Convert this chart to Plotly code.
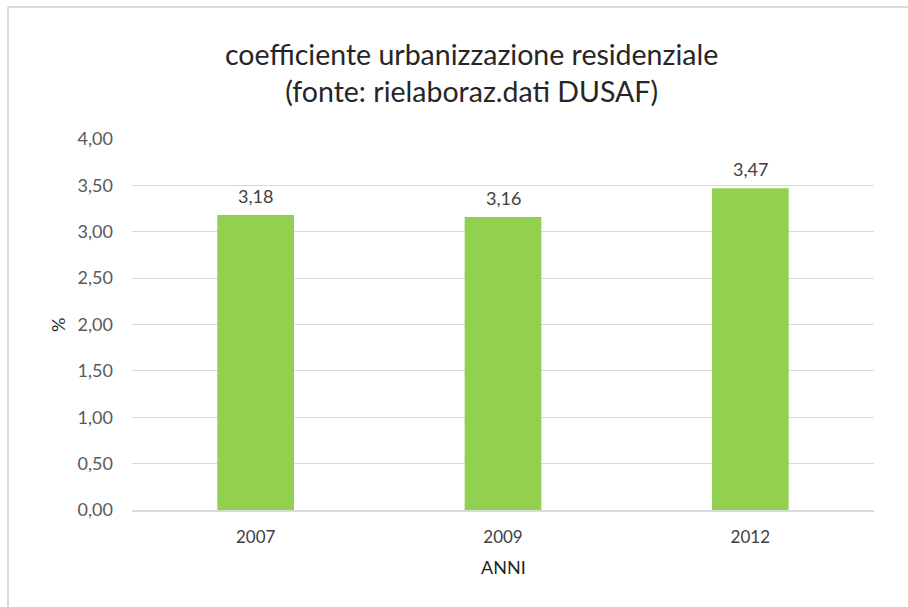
import plotly.graph_objects as go

# Data
anni = ["2007", "2009", "2012"]
valori = [3.18, 3.16, 3.47]
titolo = "coefficiente urbanizzazione residenziale<br>(fonte: rielaboraz.dati DUSAF)"
titolo_x = "ANNI"
titolo_y = "%"

W, H = 908, 607
L, R, T, B = 132, 34, 139, 97
pw = W - L - R
ph = H - T - B

def px_x(x):
    return (x - L) / pw

def px_y(y):
    return (H - B - y) / ph

FONT = "Lato"

fig = go.Figure(
    go.Bar(
        x=anni,
        y=valori,
        marker=dict(color="#92D050", line=dict(width=0)),
        hoverinfo="skip",
    )
)

# data labels built from the data arrays (category index positions)
labels = [
    dict(
        x=i, y=v, xref="x", yref="y",
        text=f"{v:.2f}".replace(".", ","),
        showarrow=False,
        xanchor="center", yanchor="middle", yshift=19,
        font=dict(family=FONT, size=18, color="#404040"),
    )
    for i, v in enumerate(valori)
]

fig.update_layout(
    width=W,
    height=H,
    margin=dict(l=L, r=R, t=T, b=B, pad=0),
    paper_bgcolor="white",
    plot_bgcolor="white",
    separators=",.",
    bargap=0.69,
    showlegend=False,
    font=dict(family=FONT, color="#595959", size=18),
    xaxis=dict(
        type="category",
        range=[-0.5, len(anni) - 0.5],
        showline=True,
        linecolor="#D9D9D9",
        linewidth=1.5,
        showgrid=False,
        ticks="",
        tickfont=dict(family=FONT, size=17, color="#404040"),
        ticklabelstandoff=11,
    ),
    yaxis=dict(
        range=[0, 4],
        dtick=0.5,
        tickformat=".2f",
        showgrid=True,
        gridcolor="#D9D9D9",
        gridwidth=1,
        zeroline=False,
        showline=False,
        ticks="",
        tickfont=dict(family=FONT, size=18, color="#595959"),
        ticklabelstandoff=18,
    ),
    annotations=labels + [
        dict(
            text=titolo,
            xref="paper", yref="paper",
            x=px_x(471), y=px_y(72),
            xanchor="center", yanchor="middle",
            showarrow=False,
            font=dict(family=FONT, size=28.5, color="#262626"),
        ),
        dict(
            text=titolo_x,
            xref="paper", yref="paper",
            x=px_x(503), y=px_y(567),
            xanchor="center", yanchor="middle",
            showarrow=False,
            font=dict(family=FONT, size=18, color="#262626"),
        ),
        dict(
            text=titolo_y,
            xref="paper", yref="paper",
            x=px_x(58), y=px_y(325),
            xanchor="center", yanchor="middle",
            textangle=-90,
            showarrow=False,
            font=dict(family=FONT, size=18, color="#262626"),
        ),
    ],
    shapes=[
        dict(type="line", xref="paper", yref="paper",
             x0=px_x(8), x1=px_x(W + 5), y0=px_y(7), y1=px_y(7),
             line=dict(color="#D9D9D9", width=2)),
        dict(type="line", xref="paper", yref="paper",
             x0=px_x(8), x1=px_x(8), y0=px_y(7), y1=px_y(H + 5),
             line=dict(color="#D9D9D9", width=2)),
    ],
)

fig.write_html(
    "out.html",
    config={"displayModeBar": False},
    post_script="document.body.style.margin='0';",
)
